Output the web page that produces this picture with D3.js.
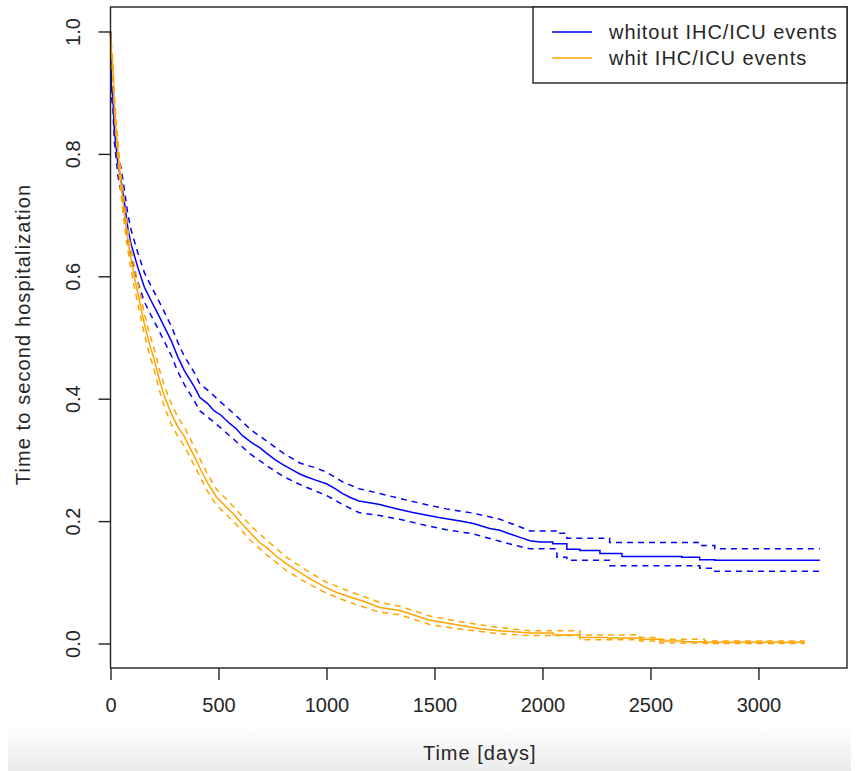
<!DOCTYPE html>
<html>
<head>
<meta charset="utf-8">
<script src="https://cdn.jsdelivr.net/npm/d3@7"></script>
<style>
  html, body { margin: 0; padding: 0; background: #fff; }
  svg { display: block; }
  text { font-family: "Liberation Sans", Arial, Helvetica, sans-serif; fill: #262626; }
</style>
</head>
<body>
<svg id="chart" width="859" height="771"></svg>
<script>
// Kaplan-Meier estimates (time in days, survival probability) with 95% bounds
const withoutTime  = [0, 3, 4, 11, 18, 34, 49, 65, 80, 95, 126, 157, 188, 219, 250, 281, 312, 342, 389, 414, 450, 480, 512, 550, 582, 610, 650, 691, 722, 760, 800, 840, 876, 910, 950, 1000, 1040, 1075, 1108, 1150, 1200, 1247, 1290, 1339, 1400, 1460, 1520, 1555, 1620, 1680, 1756, 1803, 1850, 1900, 1942, 1988, 2048, 2113, 2173, 2266, 2368, 2645, 2728, 2798, 3284];
const withoutSurv  = [1.0, 0.969, 0.909, 0.893, 0.838, 0.784, 0.757, 0.719, 0.680, 0.653, 0.615, 0.582, 0.560, 0.539, 0.517, 0.495, 0.468, 0.446, 0.419, 0.402, 0.392, 0.380, 0.373, 0.360, 0.351, 0.340, 0.329, 0.320, 0.311, 0.301, 0.292, 0.284, 0.277, 0.272, 0.267, 0.261, 0.253, 0.245, 0.239, 0.233, 0.230, 0.227, 0.223, 0.219, 0.214, 0.210, 0.206, 0.204, 0.200, 0.196, 0.188, 0.185, 0.179, 0.173, 0.168, 0.166, 0.163, 0.154, 0.152, 0.147, 0.142, 0.141, 0.137, 0.136, 0.136];

const withoutCiTime  = [0, 3, 4, 11, 18, 34, 49, 65, 80, 95, 126, 157, 188, 219, 250, 281, 312, 342, 389, 414, 450, 512, 582, 650, 722, 800, 876, 950, 1000, 1075, 1150, 1247, 1339, 1460, 1555, 1680, 1803, 1900, 1942, 2067, 2113, 2311, 2728, 2798, 3284];
const withoutUpper   = [1.0, 0.98, 0.925, 0.91, 0.856, 0.803, 0.777, 0.740, 0.702, 0.676, 0.639, 0.606, 0.584, 0.563, 0.541, 0.519, 0.492, 0.469, 0.442, 0.424, 0.414, 0.394, 0.372, 0.349, 0.331, 0.311, 0.295, 0.287, 0.280, 0.264, 0.253, 0.245, 0.237, 0.227, 0.220, 0.213, 0.203, 0.190, 0.184, 0.180, 0.172, 0.165, 0.160, 0.155, 0.155];
const withoutLower   = [1.0, 0.958, 0.893, 0.876, 0.820, 0.765, 0.737, 0.698, 0.658, 0.630, 0.591, 0.558, 0.536, 0.515, 0.493, 0.471, 0.444, 0.423, 0.396, 0.380, 0.370, 0.352, 0.330, 0.309, 0.291, 0.273, 0.260, 0.249, 0.242, 0.227, 0.214, 0.209, 0.203, 0.193, 0.186, 0.179, 0.167, 0.158, 0.155, 0.141, 0.136, 0.127, 0.123, 0.118, 0.118];

const withTime  = [0, 3, 11, 18, 26, 41, 57, 72, 88, 111, 134, 157, 180, 204, 227, 250, 281, 312, 342, 370, 398, 412, 450, 491, 530, 568, 610, 650, 690, 722, 760, 815, 860, 910, 954, 1000, 1050, 1108, 1170, 1247, 1339, 1400, 1478, 1550, 1630, 1710, 1800, 1941, 2050, 2173, 2300, 2451, 2543, 2650, 2750, 3214];
const withSurv  = [1.0, 0.975, 0.937, 0.882, 0.838, 0.778, 0.724, 0.680, 0.642, 0.598, 0.560, 0.522, 0.490, 0.462, 0.430, 0.403, 0.376, 0.354, 0.338, 0.318, 0.299, 0.288, 0.262, 0.239, 0.225, 0.212, 0.195, 0.180, 0.165, 0.157, 0.145, 0.130, 0.120, 0.109, 0.100, 0.091, 0.083, 0.076, 0.069, 0.059, 0.054, 0.047, 0.038, 0.034, 0.029, 0.024, 0.021, 0.017, 0.014, 0.010, 0.009, 0.007, 0.004, 0.003, 0.002, 0.002];

const withCiTime = [0, 3, 11, 18, 26, 41, 57, 72, 88, 111, 134, 157, 180, 204, 227, 250, 281, 312, 342, 398, 450, 491, 568, 650, 722, 815, 910, 1000, 1108, 1247, 1339, 1478, 1630, 1800, 1941, 2173, 2451, 2543, 2750, 3214];
const withUpper  = [1.0, 0.985, 0.95, 0.896, 0.853, 0.794, 0.741, 0.697, 0.659, 0.615, 0.577, 0.539, 0.507, 0.479, 0.447, 0.420, 0.393, 0.370, 0.354, 0.314, 0.276, 0.252, 0.224, 0.192, 0.169, 0.141, 0.119, 0.100, 0.085, 0.067, 0.061, 0.045, 0.035, 0.026, 0.021, 0.014, 0.010, 0.007, 0.004, 0.004];
const withLower  = [1.0, 0.965, 0.924, 0.868, 0.823, 0.762, 0.707, 0.663, 0.625, 0.581, 0.543, 0.505, 0.473, 0.445, 0.413, 0.386, 0.359, 0.338, 0.322, 0.284, 0.248, 0.226, 0.200, 0.168, 0.145, 0.119, 0.099, 0.082, 0.067, 0.051, 0.047, 0.031, 0.023, 0.016, 0.013, 0.006, 0.004, 0.001, 0.000, 0.000];

const xTicks = [0, 500, 1000, 1500, 2000, 2500, 3000];
const yTicks = [0.0, 0.2, 0.4, 0.6, 0.8, 1.0];
const legendLabels = ["whitout IHC/ICU events", "whit IHC/ICU events"];
const seriesColors = ["#0000ff", "#ffa500"];

// before this many days the estimates are dense enough to be joined directly;
// after it the individual steps of the estimator are drawn
const stepFrom = 2000;

const svg = d3.select("#chart");

// soft grey band along the bottom edge
const defs = svg.append("defs");
const grad = defs.append("linearGradient").attr("id", "band").attr("x1", 0).attr("y1", 0).attr("x2", 0).attr("y2", 1);
grad.append("stop").attr("offset", "0%").attr("stop-color", "#ffffff");
grad.append("stop").attr("offset", "100%").attr("stop-color", "#ebebeb");
svg.append("rect").attr("x", 8).attr("y", 726).attr("width", 843).attr("height", 45).attr("fill", "url(#band)");

const plot = { left: 110.5, right: 847, top: 7, bottom: 668 };

const x = d3.scaleLinear().domain([0, 3410]).range([plot.left, plot.right]);
const y = d3.scaleLinear().domain([-0.04, 1.04]).range([plot.bottom, plot.top]);

const zip = (t, v) => t.map((d, i) => [d, v[i]]);
const smoothLine = d3.line().x(d => x(d[0])).y(d => y(d[1])).curve(d3.curveLinear);
const stepLine = d3.line().x(d => x(d[0])).y(d => y(d[1])).curve(d3.curveStepAfter);

function kmPath(data) {
  let i = 0;
  while (i < data.length - 1 && data[i + 1][0] <= stepFrom) i++;
  const early = smoothLine(data.slice(0, i + 1));
  const late = stepLine(data.slice(i));
  return early + late.replace(/^M/, "L");
}

const curves = [
  { data: zip(withoutCiTime, withoutUpper), color: seriesColors[0], dash: "6,5" },
  { data: zip(withoutCiTime, withoutLower), color: seriesColors[0], dash: "6,5" },
  { data: zip(withoutTime, withoutSurv),    color: seriesColors[0], dash: null },
  { data: zip(withCiTime, withUpper),       color: seriesColors[1], dash: "6,5" },
  { data: zip(withCiTime, withLower),       color: seriesColors[1], dash: "6,5" },
  { data: zip(withTime, withSurv),          color: seriesColors[1], dash: null }
];

const g = svg.append("g");
g.selectAll("path.km").data(curves).join("path")
  .attr("class", "km")
  .attr("d", d => kmPath(d.data))
  .attr("fill", "none")
  .attr("stroke", d => d.color)
  .attr("stroke-width", 1.5)
  .attr("stroke-dasharray", d => d.dash);

// plot frame
svg.append("rect")
  .attr("x", plot.left).attr("y", plot.top)
  .attr("width", plot.right - plot.left).attr("height", plot.bottom - plot.top)
  .attr("fill", "none").attr("stroke", "#222").attr("stroke-width", 1.4);

// x axis
const xAxis = svg.append("g").attr("transform", `translate(0,${plot.bottom})`)
  .call(d3.axisBottom(x).tickValues(xTicks).tickSize(12).tickPadding(18).tickFormat(d3.format("d")));
xAxis.select(".domain").remove();
xAxis.selectAll("line").attr("stroke", "#222").attr("stroke-width", 1.4);
xAxis.selectAll("text").attr("font-size", 20).attr("fill", "#262626")
  .style("font-family", "'Liberation Sans', Arial, sans-serif");

// y axis with rotated labels
const yAxis = svg.append("g").attr("transform", `translate(${plot.left},0)`)
  .call(d3.axisLeft(y).tickValues(yTicks).tickSize(12).tickFormat(d3.format(".1f")));
yAxis.select(".domain").remove();
yAxis.selectAll("line").attr("stroke", "#222").attr("stroke-width", 1.4);
yAxis.selectAll("text")
  .attr("font-size", 20).attr("fill", "#262626")
  .style("font-family", "'Liberation Sans', Arial, sans-serif")
  .attr("x", null).attr("dy", null)
  .attr("text-anchor", "middle")
  .attr("transform", "translate(-31,0) rotate(-90)");

// axis titles
svg.append("text")
  .attr("x", (plot.left + plot.right) / 2 + 1).attr("y", 760)
  .attr("text-anchor", "middle").attr("font-size", 20)
  .attr("letter-spacing", 1)
  .text("Time [days]");
svg.append("text")
  .attr("transform", `translate(30,${(plot.top + plot.bottom) / 2 - 3}) rotate(-90)`)
  .attr("text-anchor", "middle").attr("font-size", 20)
  .attr("letter-spacing", 1.1)
  .text("Time to second hospitalization");

// legend
const legend = svg.append("g");
legend.append("rect")
  .attr("x", 533).attr("y", plot.top).attr("width", plot.right - 533).attr("height", 76)
  .attr("fill", "#fff").attr("stroke", "#222").attr("stroke-width", 1.4);
const items = legend.selectAll("g.item").data(legendLabels).join("g")
  .attr("class", "item")
  .attr("transform", (d, i) => `translate(0,${32 + i * 26})`);
items.append("line")
  .attr("x1", 552).attr("x2", 592)
  .attr("stroke", (d, i) => seriesColors[i]).attr("stroke-width", 1.5);
items.append("text")
  .attr("x", 609).attr("y", 7).attr("font-size", 20)
  .attr("letter-spacing", 0.95)
  .text(d => d);
</script>
</body>
</html>
